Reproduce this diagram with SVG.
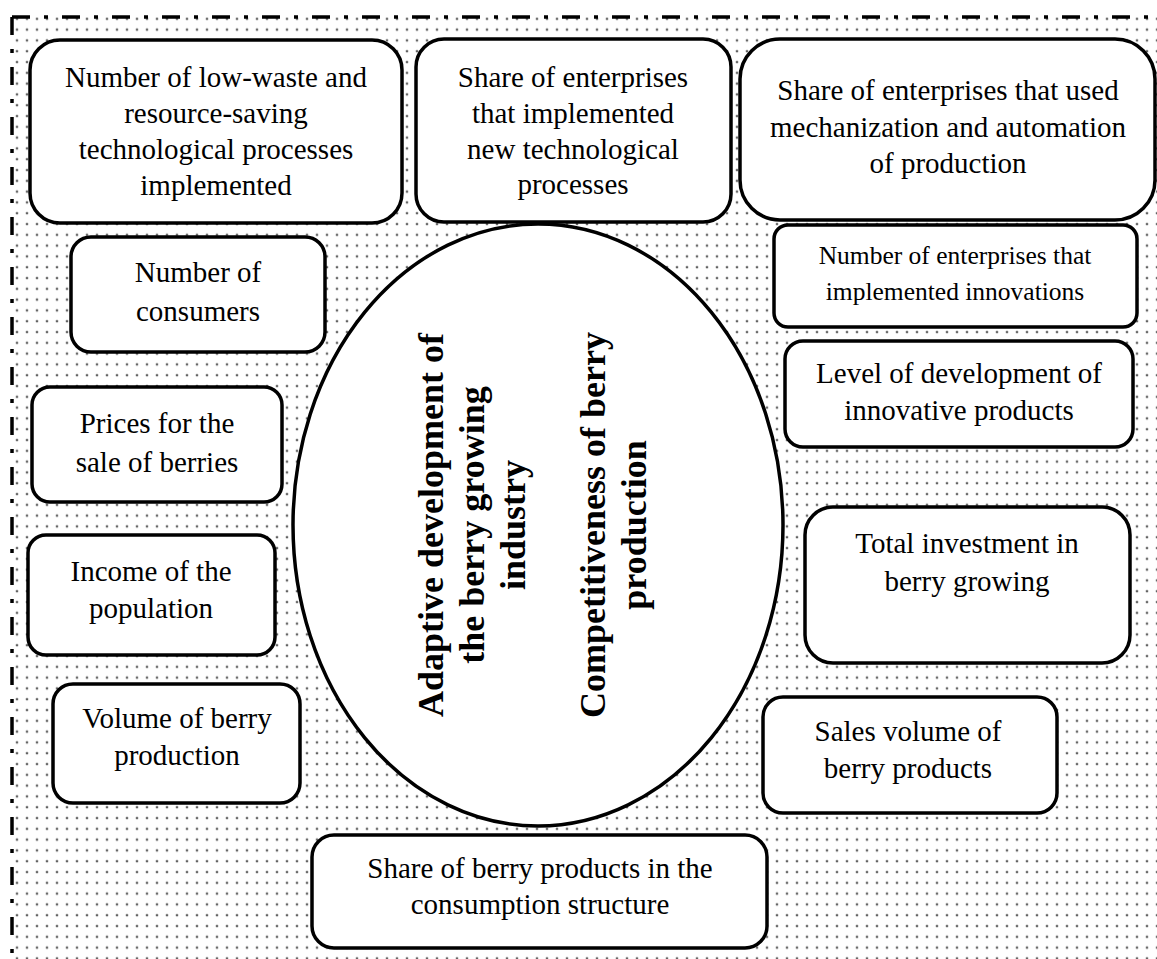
<svg xmlns="http://www.w3.org/2000/svg" width="1157" height="959" viewBox="0 0 1157 959">
  <defs>
    <pattern id="dots" x="2" y="3" width="10" height="10.8" patternUnits="userSpaceOnUse">
      <circle cx="5" cy="5" r="1.6" fill="#bbb"/>
      <circle cx="5" cy="5" r="0.9" fill="#333"/>
    </pattern>
  </defs>
  <style>
    .box { fill: #fff; stroke: #000; stroke-width: 3.5; }
    .lbl { font-family: "Liberation Serif", "Times New Roman", serif; font-size: 29px; fill: #000; text-anchor: middle; }
    .sm { font-size: 25.5px; }
    .core { font-family: "Liberation Serif", "Times New Roman", serif; font-size: 36px; font-weight: bold; fill: #000; text-anchor: middle; }
    .frame { stroke: #000; stroke-width: 3.5; fill: none; stroke-dasharray: 18 14 4 14; }
  </style>

  <rect width="1157" height="959" fill="#fff"/>
  <!-- dotted field with dash-dot frame on top and left -->
  <rect x="12" y="17" width="1145" height="942" fill="url(#dots)"/>
  <line class="frame" x1="12" y1="17" x2="1157" y2="17"/>
  <line class="frame" x1="12" y1="17" x2="12" y2="959"/>

  <g id="core">
    <ellipse cx="538" cy="525" rx="245" ry="301" fill="#fff" stroke="#000" stroke-width="3.5"/>
    <g transform="translate(0,525) rotate(-90)">
      <text class="core" x="0" y="443">Adaptive development of</text>
      <text class="core" x="0" y="484">the berry growing</text>
      <text class="core" x="0" y="525">industry</text>
      <text class="core" x="0" y="605">Competitiveness of berry</text>
      <text class="core" x="0" y="646">production</text>
    </g>
  </g>

  <g id="low-waste">
    <rect class="box" x="30" y="40" width="372" height="183" rx="30"/>
    <text class="lbl" x="216" y="87">Number of low-waste and</text>
    <text class="lbl" x="216" y="123">resource-saving</text>
    <text class="lbl" x="216" y="159">technological processes</text>
    <text class="lbl" x="216" y="195">implemented</text>
  </g>

  <g id="new-processes">
    <rect class="box" x="416" y="39" width="315" height="183" rx="28"/>
    <text class="lbl" x="573" y="87">Share of enterprises</text>
    <text class="lbl" x="573" y="123">that implemented</text>
    <text class="lbl" x="573" y="159">new technological</text>
    <text class="lbl" x="573" y="194">processes</text>
  </g>

  <g id="mechanization">
    <rect class="box" x="740" y="39" width="415" height="181" rx="40"/>
    <text class="lbl" x="948" y="100">Share of enterprises that used</text>
    <text class="lbl" x="948" y="137">mechanization and automation</text>
    <text class="lbl" x="948" y="173">of production</text>
  </g>

  <g id="consumers">
    <rect class="box" x="71" y="237" width="254" height="115" rx="20"/>
    <text class="lbl" x="198" y="282">Number of</text>
    <text class="lbl" x="198" y="321">consumers</text>
  </g>

  <g id="prices">
    <rect class="box" x="32" y="387" width="250" height="115" rx="18"/>
    <text class="lbl" x="157" y="433">Prices for the</text>
    <text class="lbl" x="157" y="472">sale of berries</text>
  </g>

  <g id="income">
    <rect class="box" x="28" y="535" width="247" height="120" rx="18"/>
    <text class="lbl" x="151" y="581">Income of the</text>
    <text class="lbl" x="151" y="618">population</text>
  </g>

  <g id="volume">
    <rect class="box" x="53" y="684" width="247" height="119" rx="20"/>
    <text class="lbl" x="177" y="728">Volume of berry</text>
    <text class="lbl" x="177" y="765">production</text>
  </g>

  <g id="consumption-share">
    <rect class="box" x="312" y="835" width="455" height="113" rx="22"/>
    <text class="lbl" x="540" y="878">Share of berry products in the</text>
    <text class="lbl" x="540" y="914">consumption structure</text>
  </g>

  <g id="sales">
    <rect class="box" x="763" y="697" width="294" height="116" rx="20"/>
    <text class="lbl" x="908" y="741">Sales volume of</text>
    <text class="lbl" x="908" y="778">berry products</text>
  </g>

  <g id="investment">
    <rect class="box" x="805" y="507" width="325" height="156" rx="28"/>
    <text class="lbl" x="967" y="553">Total investment in</text>
    <text class="lbl" x="967" y="591">berry growing</text>
  </g>

  <g id="innovative-products">
    <rect class="box" x="785" y="341" width="348" height="106" rx="18"/>
    <text class="lbl" x="959" y="383">Level of development of</text>
    <text class="lbl" x="959" y="420">innovative products</text>
  </g>

  <g id="innovators">
    <rect class="box" x="774" y="225" width="363" height="102" rx="14"/>
    <text class="lbl sm" x="955" y="264">Number of enterprises that</text>
    <text class="lbl sm" x="955" y="300">implemented innovations</text>
  </g>

  <g id="connectors"></g>
</svg>
